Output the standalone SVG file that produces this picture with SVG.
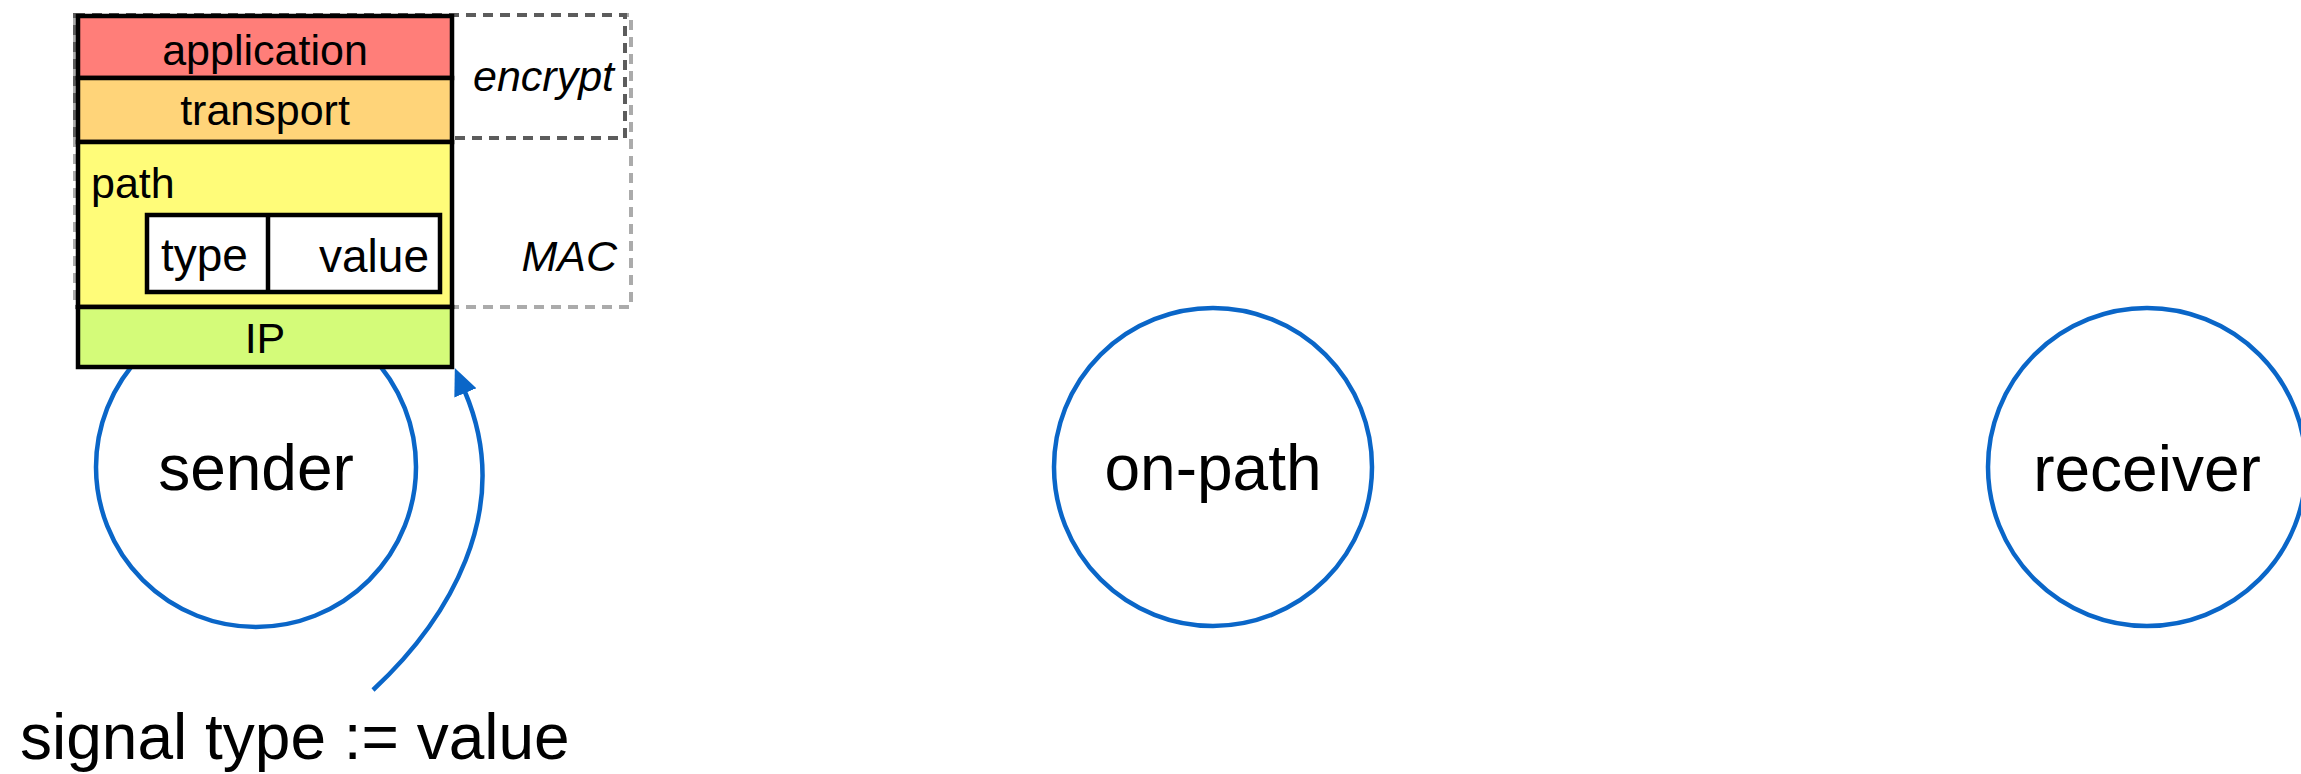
<svg xmlns="http://www.w3.org/2000/svg" width="2301" height="774" viewBox="0 0 2301 774">
<style>
  text { font-family: "Liberation Sans", Arial, Helvetica, sans-serif; fill: #000; }
  .lbl { font-size: 43px; }
  .tlv { font-size: 46px; }
  .it { font-size: 43px; font-style: italic; text-anchor: end; }
  .big { font-size: 64px; text-anchor: middle; }
  .node { fill: #fff; stroke: #0A66C8; stroke-width: 4.5; }
  .row { stroke: #000; stroke-width: 4.5; }
  .conn { fill: none; stroke: #0A66C8; stroke-width: 4.5; }
</style>
<defs>
  <marker id="ah" markerUnits="userSpaceOnUse" markerWidth="30" markerHeight="26" refX="1" refY="12" orient="auto">
    <path d="M0,0 L27,12 L0,24 Z" fill="#0A66C8"/>
  </marker>
</defs>

<g id="sender">
  <circle class="node" cx="256" cy="467" r="160"/>
  <text class="big" x="256" y="490">sender</text>
</g>

<g id="on-path">
  <circle class="node" cx="1213" cy="467" r="159"/>
  <text class="big" x="1213" y="490">on-path</text>
</g>

<g id="receiver">
  <circle class="node" cx="2147" cy="467" r="159"/>
  <text class="big" x="2147" y="491">receiver</text>
</g>

<g id="mac-region">
  <rect x="75" y="15" width="556" height="292" fill="none" stroke="#ababab" stroke-width="4" stroke-dasharray="10 7"/>
  <text class="it" x="617" y="271">MAC</text>
</g>

<g id="encrypt-region">
  <rect x="75" y="15" width="550" height="123" fill="none" stroke="#5c5c5c" stroke-width="4" stroke-dasharray="10 7"/>
  <text class="it" x="614" y="91">encrypt</text>
</g>

<g id="packet">
  <rect class="row" x="78" y="16" width="374" height="62" fill="#FF7E79"/>
  <rect class="row" x="78" y="78" width="374" height="64" fill="#FFD479"/>
  <rect class="row" x="78" y="142" width="374" height="165" fill="#FFFC79"/>
  <rect class="row" x="78" y="307" width="374" height="60" fill="#D4FB79"/>
  <text class="lbl" x="265" y="65" text-anchor="middle">application</text>
  <text class="lbl" x="265" y="125" text-anchor="middle">transport</text>
  <text class="lbl" x="91" y="198">path</text>
  <text class="lbl" x="265" y="353" text-anchor="middle">IP</text>
  <g id="tlv">
    <rect class="row" x="147" y="215" width="293" height="77" fill="#fff"/>
    <line class="row" x1="268" y1="215" x2="268" y2="292"/>
    <text class="tlv" x="161" y="271">type</text>
    <text class="tlv" x="429" y="272" text-anchor="end">value</text>
  </g>
</g>

<g id="connectors">
  <path class="conn" d="M373,690 C446,622 516,512 465,392" marker-end="url(#ah)"/>
</g>

<g id="signal-label">
  <text x="20" y="759" font-size="64">signal type := value</text>
</g>
</svg>
